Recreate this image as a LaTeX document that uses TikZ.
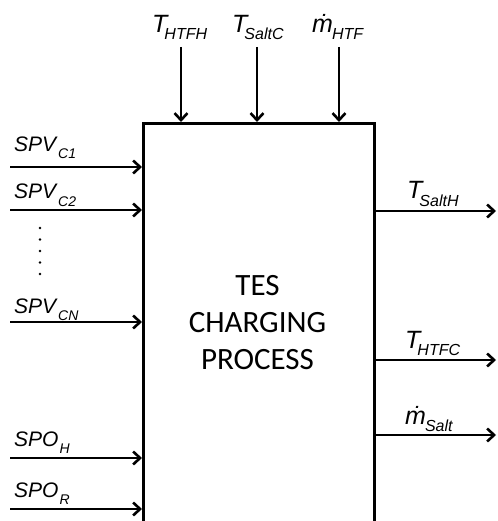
\documentclass[tikz,border=0pt]{standalone}
\usepackage{fontspec}
\setmainfont{Liberation Sans}
\newfontfamily\boxfont{Carlito}
\usetikzlibrary{arrows.meta, positioning, calc}

% subscripts of the signal names
\newcommand{\bigsub}[1]{\kern-3pt\raisebox{-7pt}{\fontsize{16}{16}\selectfont #1}}
\newcommand{\smallsub}[2][2pt]{\kern#1\raisebox{-7pt}{\fontsize{14}{14}\selectfont #2}}

\begin{document}
\begin{tikzpicture}[x=1pt, y=-1pt,
    arr/.style={line width=2.6pt, -{Straight Barb[length=7pt, width=13pt]}},
    biglbl/.style={anchor=base west, inner sep=0pt, font=\fontsize{25}{25}\selectfont\itshape},
    sidelbl/.style={anchor=base west, inner sep=0pt, font=\fontsize{21}{21}\selectfont\itshape}]
    \clip (0,0) rectangle (497,521);

    % Block
    \node[draw, line width=3.2pt, anchor=north west, minimum width=231pt, minimum height=460pt, inner sep=0pt] (tes) at (142,122) {};
    \node[font=\boxfont\fontsize{31}{37}\selectfont, align=center] (title) at (257.5,323) {TES\\CHARGING\\PROCESS};

    % Inputs from above
    \node[biglbl] (lblHTFH) at (152,33) {T\bigsub{HTFH}};
    \node[biglbl] (lblSaltC) at (232,33) {T\bigsub{SaltC}};
    \node[biglbl] (lblmHTF) at (312,33) {\.{m}\kern2pt\bigsub{HTF}};
    \coordinate (inHTFH) at (181,47);
    \coordinate (inSaltC) at (257,47);
    \coordinate (inmHTF) at (339,47);
    \foreach \c in {inHTFH, inSaltC, inmHTF}
        \draw[arr] (\c) -- (\c |- tes.north);

    % Inputs from the left
    \node[sidelbl] (lblC1) at (14,152) {SPV\smallsub{C1}};
    \node[sidelbl] (lblC2) at (14,199) {SPV\smallsub{C2}};
    \node[sidelbl] (lblCN) at (14,313) {SPV\smallsub{CN}};
    \node[sidelbl] (lblH) at (14,446) {SPO\smallsub[1pt]{H}};
    \node[sidelbl] (lblR) at (14,497) {SPO\smallsub[1pt]{R}};
    \coordinate (inC1) at (10,167);
    \coordinate (inC2) at (10,210);
    \coordinate (inCN) at (10,322);
    \coordinate (inH) at (10,458);
    \coordinate (inR) at (10,509);
    \foreach \c in {inC1, inC2, inCN, inH, inR}
        \draw[arr] (\c) -- (\c -| tes.west);
    \foreach \y in {228,239.5,251,262.5,274}
        \fill (40,\y) circle (1.3pt);

    % Outputs
    \node[biglbl] (lblSaltH) at (407,199) {T\bigsub{SaltH}};
    \node[biglbl] (lblHTFC) at (405,348) {T\bigsub{HTFC}};
    \node[biglbl] (lblmSalt) at (405,424) {\.{m}\kern2pt\bigsub{Salt}};
    \coordinate (outSaltH) at (496,211);
    \coordinate (outHTFC) at (496,360);
    \coordinate (outmSalt) at (496,435);
    \foreach \c in {outSaltH, outHTFC, outmSalt}
        \draw[arr] (\c -| tes.east) -- (\c);
\end{tikzpicture}
\end{document}
